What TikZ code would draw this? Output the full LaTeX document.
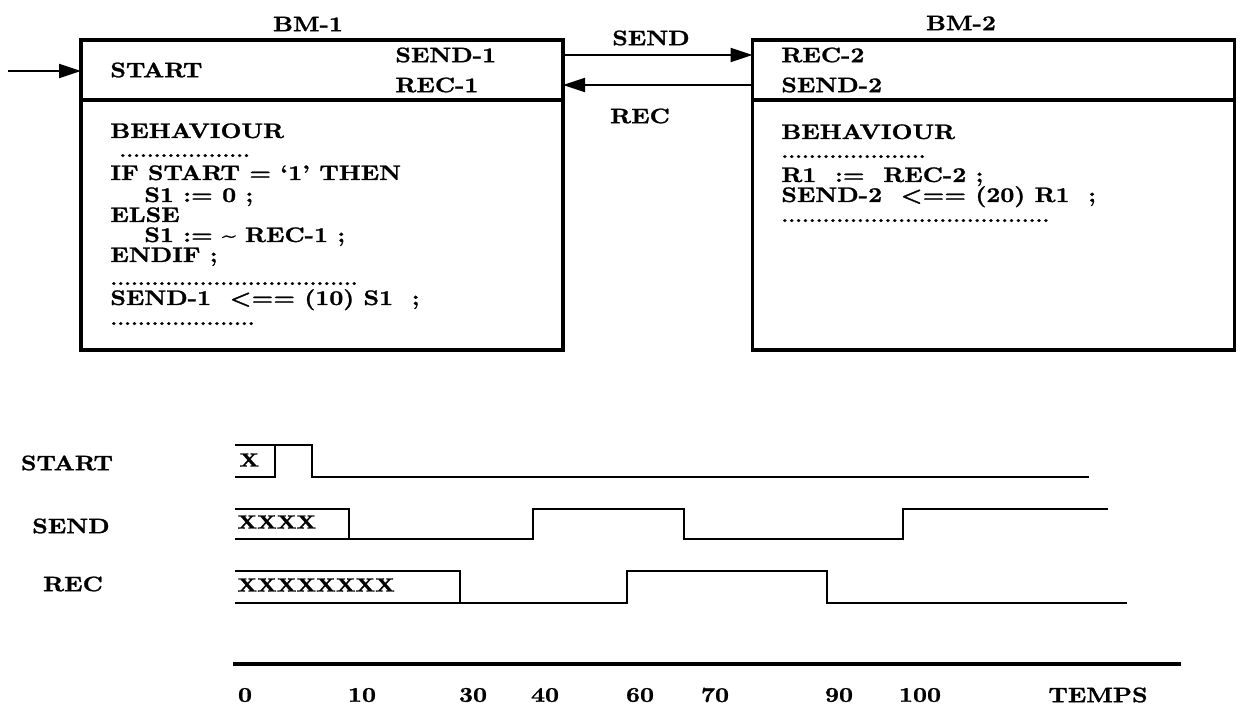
\documentclass[tikz,border=0pt]{standalone}
\usepackage{fontspec}
\setmainfont{Latin Modern Roman}[FakeStretch=1.16, BoldFeatures={FakeBold=1.2}]
\usepackage{tikz}
\usetikzlibrary{arrows.meta}

% a row of small printed dots
\newcommand{\dotrun}[1]{{\fontsize{9}{9}\selectfont\foreach \i in {1,...,#1}{.}}}

\begin{document}
\begin{tikzpicture}[
  x=0.5pt, y=-0.5pt,
  box/.style={draw, line width=1.6pt, inner sep=0pt, outer sep=0pt, minimum width=241pt, minimum height=155pt},
  rule/.style={line width=1.6pt},
  arrow/.style={-{Triangle[length=11pt,width=7pt]}, line width=1.1pt},
  sig/.style={line width=1.4pt, line join=miter},
  txt/.style={font=\fontsize{10.5}{12}\selectfont\bfseries, inner sep=0pt},
  code/.style={txt, anchor=base west},
  xx/.style={font=\fontsize{9.5}{11}\selectfont\bfseries, inner sep=0pt, anchor=west}
]
\useasboundingbox (0,0) rectangle (1240,705);

% Module BM-1
\node[txt] (bm1name) at (308,24) {BM-1};
\node[box] (bm1) at (322,195) {};
\draw[rule] (bm1.west |- 0,100) -- (bm1.east |- 0,100);
\node[txt, anchor=west] (start) at (110,70) {START};
\node[txt, anchor=west] (send1) at (395,55) {SEND-1};
\node[txt, anchor=west] (rec1) at (395,85) {REC-1};

\node[code] (beh1) at (110,138) {BEHAVIOUR};
\node[code] at (119,157) {\dotrun{19}};
\node[code] at (110,180) {IF START = `1' THEN};
\node[code] at (144,202) {S1 := 0 ;};
\node[code] at (110,222) {ELSE};
\node[code] at (144,242) {S1 := \textasciitilde{} REC-1 ;};
\node[code] at (110,262) {ENDIF ;};
\node[code] at (110,285) {\dotrun{36}};
\node[code] at (110,305) {SEND-1 \ <== (10) S1 \ ;};
\node[code] at (110,325) {\dotrun{21}};

% Module BM-2
\node[txt] (bm2name) at (961,23) {BM-2};
\node[box] (bm2) at (993.5,195) {};
\draw[rule] (bm2.west |- 0,100) -- (bm2.east |- 0,100);
\node[txt, anchor=west] (rec2) at (781,55) {REC-2};
\node[txt, anchor=west] (send2) at (781,85) {SEND-2};

\node[code] (beh2) at (781,139) {BEHAVIOUR};
\node[code] at (781,158) {\dotrun{21}};
\node[code] at (781,182) {R1 \ := \ REC-2 ;};
\node[code] at (781,202) {SEND-2 \ <== (20) R1 \ ;};
\node[code] at (781,222) {\dotrun{39}};

% Links between the modules
\coordinate (in) at (8,71);
\draw[arrow] (in) -- (in -| bm1.west);
\draw[arrow] (send1 -| bm1.east) -- (rec2 -| bm2.west);
\draw[arrow] (send2 -| bm2.west) -- (rec1 -| bm1.east);
\node[txt] (sendlink) at (651,38) {SEND};
\node[txt] (reclink) at (640,116) {REC};

% Chronogram
\node[txt] (tstart) at (67,463) {START};
\node[txt] (tsend) at (71,526) {SEND};
\node[txt] (trec) at (73,584) {REC};

\draw[sig] (235,445) -- (312,445) -- (312,477) -- (1089,477);
\draw[sig] (235,477) -- (275,477) -- (275,445);
\node[xx] at (239,460) {X};

\draw[sig] (235,509) -- (349,509) -- (349,539) -- (533,539) -- (533,509) -- (684,509)
  -- (684,539) -- (903,539) -- (903,509) -- (1108,509);
\draw[sig] (235,539) -- (349,539);
\node[xx] at (237,522) {XXXX};

\draw[sig] (235,571) -- (460,571) -- (460,603) -- (627,603) -- (627,571) -- (827,571)
  -- (827,603) -- (1127,603);
\draw[sig] (235,603) -- (460,603);
\node[xx] at (237,585) {XXXXXXXX};

% Time axis
\draw[sig, line width=1.6pt] (233,664) -- (1181,664);
\foreach \t/\x in {0/245, 10/362, 30/473, 40/545, 60/640, 70/715, 90/839, 100/920}
  \node[txt] at (\x,695) {\t};
\node[txt] (temps) at (1098,695) {TEMPS};

\end{tikzpicture}
\end{document}
